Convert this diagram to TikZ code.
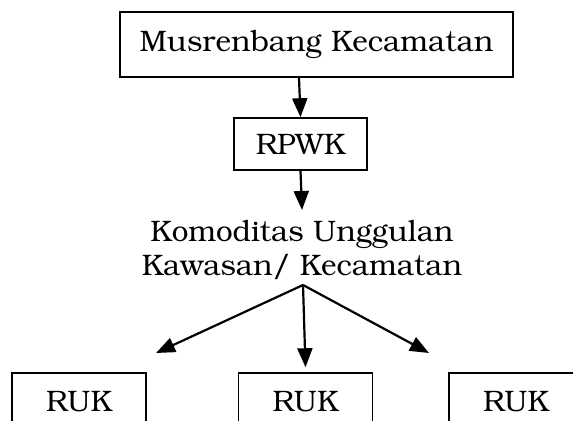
\documentclass[tikz,border=0pt]{standalone}
\usepackage[T1]{fontenc}
\usepackage{bookman}
\usetikzlibrary{arrows.meta}

\begin{document}
\begin{tikzpicture}[x=0.5pt, y=-0.5pt,
        txt/.style={font=\fontsize{14.8pt}{17pt}\selectfont},
        box/.style={txt, draw, line width=0.75pt, inner sep=0pt},
        arr/.style={line width=1.1pt, -{Triangle[length=9.5pt, width=7.5pt]}}]
        \clip (0,0) rectangle (573,421);

        % Musrenbang box at the top
        \node[box, minimum width=196.5pt, minimum height=32.5pt] (musren) at (316.5,44.5) {Musrenbang Kecamatan};

        % RPWK box below it
        \node[box, minimum width=66.5pt, minimum height=26pt] (rpwk) at (300.5,144) {RPWK};

        % Komoditas text, no border
        \node[txt, align=center, inner sep=0pt, anchor=north] (komod) at (302,220) {Komoditas Unggulan\\Kawasan/ Kecamatan};

        % RUK boxes along the bottom, cut off by the page edge
        \node[box, minimum width=67pt, minimum height=28pt] (ruk1) at (79,401) {RUK};
        \node[box, minimum width=67pt, minimum height=28pt] (ruk2) at (305.5,401) {RUK};
        \node[box, minimum width=67pt, minimum height=28pt] (ruk3) at (516,401) {RUK};

        % fork point and free arrow ends
        \coordinate (fork) at (303,285);
        \coordinate (tipL) at (156,353);
        \coordinate (tipR) at (429,353);

        % Arrows down the chain
        \draw[arr] ([xshift=-8.75pt]musren.south) -- (rpwk.north);
        \draw[arr] (rpwk.south) -- ([yshift=5pt]komod.north);
        \draw[arr] (fork) -- (tipL);
        \draw[arr] (fork) -- ([yshift=2.5pt]ruk2.north);
        \draw[arr] (fork) -- (tipR);
    \end{tikzpicture}
\end{document}
